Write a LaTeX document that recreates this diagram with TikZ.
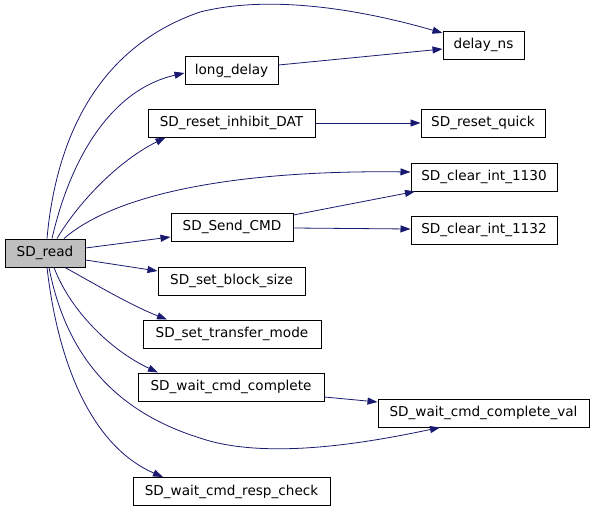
\documentclass[tikz,border=0pt]{standalone}
\usepackage{fontspec}
\setmainfont{DejaVu Sans}
\usetikzlibrary{arrows.meta}
\definecolor{edgec}{HTML}{191970}
\definecolor{rootfill}{HTML}{BFBFBF}
\begin{document}
\begin{tikzpicture}[x=1pt,y=-1pt,
  fn/.style={draw=black, line width=1pt, fill=white, rectangle, inner sep=0pt,
    minimum height=28pt, font=\fontsize{13.6}{16}\selectfont},
  call/.style={draw=edgec, line width=0.8pt, -{Triangle[length=10pt,width=7pt]}}]
\useasboundingbox (0,0) rectangle (595,512);
\node[fn, fill=rootfill, minimum width=80pt] (read) at (45,253) {SD\_read};
\node[fn, minimum width=81pt] (dn) at (483.5,45) {delay\_ns};
\node[fn, minimum width=93pt] (ld) at (231.5,70.5) {long\_delay};
\node[fn, minimum width=167pt] (rid) at (231.5,123) {SD\_reset\_inhibit\_DAT};
\node[fn, minimum width=124pt] (rq) at (483,123) {SD\_reset\_quick};
\node[fn, minimum width=146pt] (c30) at (484,177) {SD\_clear\_int\_1130};
\node[fn, minimum width=122pt] (sc) at (232,227) {SD\_Send\_CMD};
\node[fn, minimum width=146pt] (c32) at (484,230) {SD\_clear\_int\_1132};
\node[fn, minimum width=147pt] (bs) at (231.5,281) {SD\_set\_block\_size};
\node[fn, minimum width=178pt] (tm) at (232,334) {SD\_set\_transfer\_mode};
\node[fn, minimum width=186pt] (wc) at (231,387) {SD\_wait\_cmd\_complete};
\node[fn, minimum width=211pt] (wv) at (483.5,413) {SD\_wait\_cmd\_complete\_val};
\node[fn, minimum width=197pt] (wr) at (231.5,491.5) {SD\_wait\_cmd\_resp\_check};

% edges from SD_read
\draw[call] ([shift={(2,0)}]read.north) .. controls (55,150) and (90,50) .. (200,12)
  .. controls (280,-8) and (380,15) .. ([shift={(0,-12)}]dn.west);
\draw[call] ([shift={(7,0)}]read.north) .. controls (70,160) and (110,90) .. ([shift={(0,2.5)}]ld.west);
\draw[call] ([shift={(12,0)}]read.north) .. controls (80,200) and (120,160) .. ([shift={(-66,0)}]rid.south);
\draw[call] ([shift={(19,0)}]read.north) .. controls (120,190) and (250,170) .. ([shift={(0,-5)}]c30.west);
\draw[call] ([shift={(0,-5)}]read.east) -- ([shift={(0,10)}]sc.west);
\draw[call] ([shift={(0,7)}]read.east) -- ([shift={(0,-10)}]bs.west);
\draw[call] ([shift={(20,0)}]read.south) .. controls (95,284) and (130,305) .. ([shift={(-65,0)}]tm.north);
\draw[call] ([shift={(9,0)}]read.south) .. controls (70,310) and (110,350) .. ([shift={(-73,0)}]wc.north);
\draw[call] ([shift={(4,0)}]read.south) .. controls (65,350) and (110,410) .. (200,438)
  .. controls (270,462) and (380,440) .. ([shift={(-43.5,0)}]wv.south);
\draw[call] ([shift={(2,0)}]read.south) .. controls (60,380) and (100,450) .. ([shift={(-68.5,0)}]wr.north);

% other edges
\draw[call] ([shift={(0,-5.5)}]ld.east) -- ([shift={(0,4)}]dn.west);
\draw[call] (rid.east) -- (rq.west);
\draw[call] ([shift={(0,-12)}]sc.east) -- ([shift={(-69,0)}]c30.south);
\draw[call] ([shift={(0,1)}]sc.east) -- ([shift={(0,-1)}]c32.west);
\draw[call] ([shift={(0,10)}]wc.east) -- ([shift={(0,-11)}]wv.west);
\end{tikzpicture}
\end{document}
